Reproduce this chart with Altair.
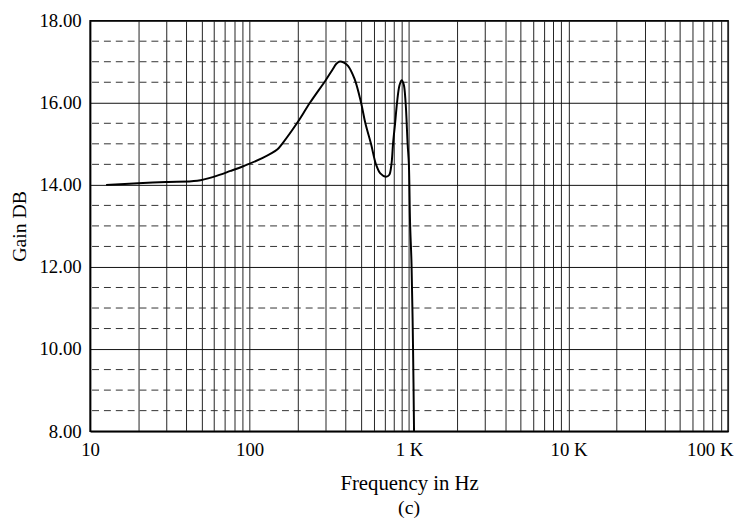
import altair as alt
import pandas as pd

# Curve (frequency in Hz, gain in dB)
freq_hz = [12.6, 20, 30, 47, 60, 76, 92, 120, 149, 160, 198, 239, 300, 330, 350,
           364, 390, 414, 455, 500, 532, 577, 620, 660, 715, 750, 775, 793, 817,
           840, 870, 898, 925, 951, 979, 997, 1014, 1036, 1059, 1074]
gain_db = [14.00, 14.04, 14.07, 14.10, 14.20, 14.34, 14.46, 14.65, 14.86, 15.00,
           15.50, 16.00, 16.55, 16.80, 16.95, 17.00, 16.98, 16.90, 16.58, 16.00,
           15.50, 15.00, 14.50, 14.28, 14.20, 14.24, 14.50, 15.00, 15.50, 16.00,
           16.42, 16.55, 16.45, 16.00, 15.00, 14.50, 13.08, 12.06, 9.98, 8.00]

# Axis ticks / grid
x_grid = [m * 10 ** e for e in range(1, 5) for m in range(1, 10)] + [100000]
decade_ticks = [10, 100, 1000, 10000, 100000]
y_major = [8, 10, 12, 14, 16, 18]
y_minor = [8.5, 9, 9.5, 10.5, 11, 11.5, 12.5, 13, 13.5, 14.5, 15, 15.5, 16.5, 17, 17.5]

FONT = "Liberation Serif"
xscale = alt.Scale(type="log", domain=[10, 100000], nice=False)
yscale = alt.Scale(domain=[8, 18], nice=False, zero=False)

label_expr = (
    "indexof(" + str(decade_ticks) + ", datum.value) >= 0 ? "
    "(datum.value >= 1000 ? format(datum.value/1000, 'd') + ' K' : format(datum.value, 'd')) : ''"
)

minor = alt.Chart(pd.DataFrame({"v": y_minor})).mark_rule(
    strokeDash=[7, 5], color="#333", strokeWidth=1
).encode(y=alt.Y("v:Q", scale=yscale))

curve = alt.Chart(pd.DataFrame({"f": freq_hz, "g": gain_db})).mark_line(
    color="black", strokeWidth=2, interpolate="catmull-rom", clip=True
).encode(
    x=alt.X("f:Q", scale=xscale, axis=alt.Axis(
        values=x_grid, grid=True, gridColor="#222", gridWidth=1, ticks=False,
        labelExpr=label_expr, labelOverlap=False, labelPadding=10,
        labelAlign={"condition": {"test": "datum.value == 100000", "value": "right"}, "value": "center"},
        labelOffset={"condition": {"test": "datum.value == 100000", "value": 5}, "value": 0},
        title="Frequency in Hz", titlePadding=13)),
    y=alt.Y("g:Q", scale=yscale, axis=alt.Axis(
        values=y_major, format=".2f", grid=True, gridColor="#111", gridWidth=1,
        ticks=False, labelPadding=9, title="Gain DB", titlePadding=10)),
)

chart = alt.layer(minor, curve).properties(
    width=645, height=415,
    autosize=alt.AutoSizeParams(type="none"),
    padding={"left": 83, "top": 10, "right": 8, "bottom": 87},
    title=alt.TitleParams("(c)", orient="bottom", font=FONT, fontSize=20,
                          fontWeight="normal", offset=5, color="black"),
).configure_axis(
    labelFont=FONT, labelFontSize=19, labelColor="black",
    titleFont=FONT, titleFontSize=21, titleFontWeight="normal", titleColor="black",
    domainColor="black", domainWidth=1.5,
).configure_axisY(titleFontSize=20).configure_view(stroke="black", strokeWidth=1.5)

chart.save("out.html", embed_options={"renderer": "svg", "actions": False})
